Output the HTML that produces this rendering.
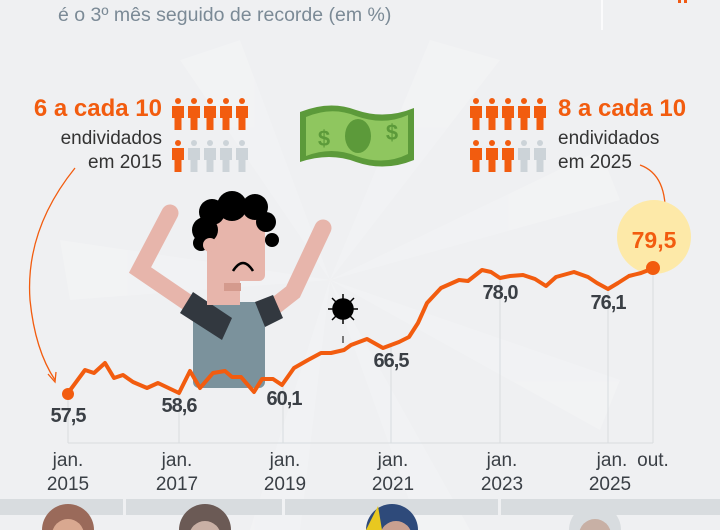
<!DOCTYPE html>
<html><head><meta charset="utf-8"><style>
body{margin:0;width:720px;height:530px;overflow:hidden;background:#eff0f2;font-family:"Liberation Sans",sans-serif;}
svg{position:absolute;left:0;top:0}
</style></head><body>
<svg width="720" height="530" viewBox="0 0 720 530" xmlns="http://www.w3.org/2000/svg">
<defs>
<g id="p"><circle cx="6" cy="3" r="3"/><path d="M0,8 h12 v12 h-2.5 v12 h-7 v-12 h-2.5z"/></g>
</defs>
<rect width="720" height="530" fill="#eff0f2"/>
<g fill="#f3f4f5" opacity="0.7">
<polygon points="330,280 180,60 240,40"/>
<polygon points="330,280 430,40 500,60"/>
<polygon points="330,280 60,240 70,300"/>
<polygon points="330,280 600,150 620,200"/>
<polygon points="330,280 250,530 300,530"/>
<polygon points="330,280 420,530 470,530"/>
<polygon points="330,280 620,380 600,430"/>
</g>
<line x1="602" y1="0" x2="602" y2="30" stroke="#fff" stroke-width="1.5"/>
<rect x="678" y="0" width="3" height="3" fill="#f05a14"/><rect x="684" y="0" width="3" height="3" fill="#f05a14"/>
<text x="58" y="21" font-size="19.5" fill="#7b8a96">é o 3º mês seguido de recorde (em %)</text>

<text x="162" y="116" font-size="24" font-weight="bold" fill="#f25c0f" text-anchor="end">6 a cada 10</text>
<text x="162" y="144" font-size="19" fill="#333" text-anchor="end">endividados</text>
<text x="162" y="168" font-size="19" fill="#333" text-anchor="end">em 2015</text>
<g fill="#f25c0f">
<use href="#p" x="172" y="98"/><use href="#p" x="188" y="98"/><use href="#p" x="204" y="98"/><use href="#p" x="220" y="98"/><use href="#p" x="236" y="98"/>
<use href="#p" x="172" y="140"/></g>
<g fill="#ccd3d8"><use href="#p" x="188" y="140"/><use href="#p" x="204" y="140"/><use href="#p" x="220" y="140"/><use href="#p" x="236" y="140"/></g>

<g fill="#f25c0f">
<use href="#p" x="470" y="98"/><use href="#p" x="486" y="98"/><use href="#p" x="502" y="98"/><use href="#p" x="518" y="98"/><use href="#p" x="534" y="98"/>
<use href="#p" x="470" y="140"/><use href="#p" x="486" y="140"/><use href="#p" x="502" y="140"/></g>
<g fill="#ccd3d8"><use href="#p" x="518" y="140"/><use href="#p" x="534" y="140"/></g>
<text x="558" y="116" font-size="24" font-weight="bold" fill="#f25c0f">8 a cada 10</text>
<text x="558" y="144" font-size="19" fill="#333">endividados</text>
<text x="558" y="168" font-size="19" fill="#333">em 2025</text>

<path d="M300,112 Q330,100 356,110 Q385,120 414,108 L414,160 Q385,172 356,162 Q330,152 300,162Z" fill="#5c9a3a"/>
<path d="M306,117 Q332,106 356,116 Q384,126 408,115 L408,154 Q384,166 356,156 Q332,146 306,156Z" fill="#8fc65f"/>
<ellipse cx="358" cy="136" rx="13" ry="17" fill="#5c9a3a"/>
<text x="324" y="146" font-size="22" font-weight="bold" fill="#5c9a3a" text-anchor="middle">$</text>
<text x="392" y="140" font-size="22" font-weight="bold" fill="#5c9a3a" text-anchor="middle">$</text>

<path d="M75,168 Q25,230 30,300 Q35,350 55,380" fill="none" stroke="#f25c0f" stroke-width="1.3"/>
<path d="M48,374 L55,382 L56,372" fill="none" stroke="#f25c0f" stroke-width="1.3"/>
<path d="M640,165 Q668,175 665,220" fill="none" stroke="#f25c0f" stroke-width="1.3"/>
<path d="M660,214 L665,221 L670,214" fill="none" stroke="#f25c0f" stroke-width="1.3"/>

<!-- person -->
<g stroke="#e7b5ab" stroke-width="17" stroke-linecap="round" fill="none">
<polyline points="170,213 140,270 203,313"/>
<polyline points="323,228 293,292 270,310"/>
</g>
<rect x="193" y="302" width="72" height="86" rx="6" fill="#7b929c"/>
<polygon points="180,313 193,292 232,318 222,340" fill="#32383f"/>
<path d="M255,302 L273,295 L283,318 L265,327Z" fill="#32383f"/>
<rect x="207" y="265" width="33" height="40" fill="#e7b5ab"/>
<rect x="207" y="215" width="58" height="66" rx="6" fill="#e7b5ab"/>
<rect x="224" y="283" width="17" height="8" fill="#d49a8d"/>
<path d="M233,271 Q243,255 253,271" fill="none" stroke="#000" stroke-width="2.5"/>
<g fill="#000"><circle cx="205" cy="230" r="13"/><circle cx="212" cy="212" r="13"/><circle cx="232" cy="206" r="15"/><circle cx="255" cy="207" r="13"/><circle cx="266" cy="222" r="10"/><circle cx="272" cy="240" r="7"/><circle cx="201" cy="243" r="8"/></g>
<circle cx="210" cy="245" r="7" fill="#e7b5ab"/>

<!-- virus -->
<g fill="#000" stroke="#000" stroke-width="1.5"><circle cx="343" cy="309" r="10"/>
<line x1="343" y1="294" x2="343" y2="324"/><line x1="328" y1="309" x2="358" y2="309"/><line x1="332" y1="298" x2="354" y2="320"/><line x1="354" y1="298" x2="332" y2="320"/></g>
<line x1="343" y1="336" x2="343" y2="343" stroke="#000" stroke-width="1"/>

<!-- chart gridlines -->
<g stroke="#d8dcdf" stroke-width="1">
<line x1="68" y1="394" x2="68" y2="443"/><line x1="179" y1="393" x2="179" y2="443"/><line x1="283" y1="385" x2="283" y2="443"/><line x1="391" y1="345" x2="391" y2="443"/><line x1="500" y1="278" x2="500" y2="443"/><line x1="608" y1="289" x2="608" y2="443"/><line x1="653" y1="268" x2="653" y2="443"/>
<line x1="68" y1="443" x2="653" y2="443"/></g>

<circle cx="654" cy="237" r="37" fill="#fde9a8"/>
<polyline fill="none" stroke="#f25c0f" stroke-width="4" stroke-linejoin="round" points="68,393 85,370 94,373 105,363 114,378 123,375 133,382 147,388 158,383 179,393 190,371 200,388 213,373 225,371 232,377 241,377 254,392 262,379 273,379 282,385 294,368 308,360 321,353 331,353 344,350 351,345 367,339 383,348 399,342 409,337 418,323 427,303 441,288 459,280 468,281 482,270 491,272 500,278 510,276 523,275 535,279 546,286 556,277 574,272 588,277 597,283 608,289 618,283 629,276 641,273 654,268"/>
<circle cx="68" cy="394" r="6" fill="#f25c0f"/>
<circle cx="653" cy="268" r="7" fill="#f25c0f"/>

<g font-size="20" font-weight="bold" fill="#3a3f45" text-anchor="middle" letter-spacing="-1">
<text x="68" y="422">57,5</text><text x="179" y="412">58,6</text><text x="284" y="405">60,1</text><text x="391" y="367">66,5</text><text x="500" y="299">78,0</text><text x="608" y="309">76,1</text></g>
<text x="654" y="248" font-size="23" font-weight="bold" fill="#f25c0f" text-anchor="middle">79,5</text>

<g font-size="19" fill="#3a3f45" text-anchor="middle">
<text x="68" y="466">jan.</text><text x="68" y="490">2015</text>
<text x="177" y="466">jan.</text><text x="177" y="490">2017</text>
<text x="285" y="466">jan.</text><text x="285" y="490">2019</text>
<text x="393" y="466">jan.</text><text x="393" y="490">2021</text>
<text x="502" y="466">jan.</text><text x="502" y="490">2023</text>
<text x="612" y="466">jan.</text><text x="610" y="490">2025</text>
<text x="653" y="466">out.</text></g>

<g fill="#d8dcdf"><rect x="0" y="499" width="123" height="16"/><rect x="126" y="499" width="156" height="16"/><rect x="285" y="499" width="213" height="16"/><rect x="501" y="499" width="219" height="16"/></g>
<g><circle cx="68" cy="530" r="26" fill="#9a6a5a"/><circle cx="68" cy="535" r="16" fill="#d9a890"/>
<circle cx="205" cy="530" r="26" fill="#6b5a55"/><circle cx="205" cy="537" r="16" fill="#c9b0a5"/>
<circle cx="392" cy="530" r="26" fill="#2e4a7a"/><circle cx="396" cy="537" r="16" fill="#c9a090"/><path d="M366,530 L378,506 L382,530Z" fill="#e8c820"/>
<circle cx="595" cy="530" r="26" fill="#d8dcdf"/><circle cx="595" cy="535" r="16" fill="#c8b0a5"/></g>
</svg>
</body></html>
